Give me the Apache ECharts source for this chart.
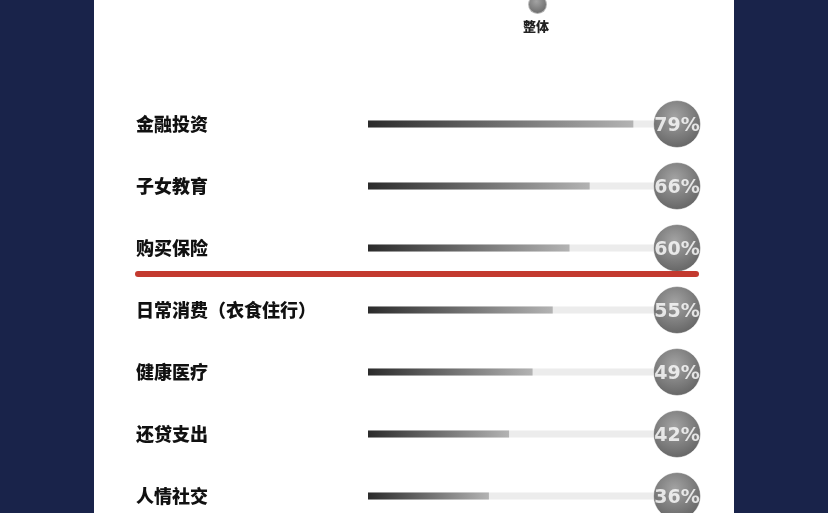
<!DOCTYPE html>
<html>
<head>
<meta charset="utf-8">
<script src="https://cdn.jsdelivr.net/npm/echarts@6/dist/echarts.min.js"></script>
<style>
  html, body { margin: 0; padding: 0; background: #19234a; }
  #main { width: 828px; height: 513px; }
</style>
</head>
<body>
<div id="main"></div>
<script>
// categories top to bottom, and the share of each
const categories = ['金融投资', '子女教育', '购买保险', '日常消费（衣食住行）', '健康医疗', '还贷支出', '人情社交'];
const values = [79, 66, 60, 55, 49, 42, 36];
const seriesName = '整体';
// the grey track ends where the bubble sits
const trackMax = 92;

let myChart = echarts.init(document.getElementById('main'));

let option = {
    backgroundColor: '#19234a',
    animation: false,
    graphic: [
        {
            type: 'rect',
            z: -10,
            shape: { x: 94, y: 0, width: 640, height: 513 },
            style: { fill: '#ffffff' }
        }
    ],
    title: {
        text: seriesName,
        left: 518,
        top: 15,
        textStyle: { fontSize: 13, fontWeight: 900, color: '#222', fontFamily: 'Noto Sans CJK SC' }
    },
    legend: {
        data: [seriesName],
        left: 522,
        top: -11,
        itemWidth: 19,
        itemHeight: 19,
        formatter: function () { return ''; },
        icon: 'circle'
    },
    grid: { left: 368, right: 151, top: 124, bottom: 17, containLabel: false },
    xAxis: {
        type: 'value',
        min: 0,
        max: trackMax,
        show: false
    },
    yAxis: {
        type: 'category',
        data: categories,
        inverse: true,
        boundaryGap: false,
        axisLine: { show: false },
        axisTick: { show: false },
        splitLine: { show: false },
        axisLabel: {
            align: 'left',
            margin: 232,
            fontSize: 18,
            fontWeight: 900,
            color: '#111',
            fontFamily: 'Noto Sans CJK SC'
        }
    },
    series: [
        {
            type: 'bar',
            data: values,
            barWidth: 7,
            showBackground: true,
            backgroundStyle: { color: '#ececec' },
            itemStyle: {
                color: new echarts.graphic.LinearGradient(0, 0, 1, 0, [
                    { offset: 0, color: '#2b2b2b' },
                    { offset: 1, color: '#b3b3b3' }
                ])
            },
            z: 2
        },
        {
            name: seriesName,
            type: 'scatter',
            data: categories.map(function (c) { return [trackMax, c]; }),
            symbolSize: 47,
            itemStyle: {
                color: new echarts.graphic.RadialGradient(0.45, 0.35, 0.7, [
                    { offset: 0, color: '#8c8c8c' },
                    { offset: 1, color: '#3a3a3a' }
                ]),
                borderColor: 'rgba(255,255,255,0.6)',
                borderWidth: 1
            },
            label: {
                show: true,
                position: 'inside',
                offset: [0, 2],
                formatter: function (p) { return values[p.dataIndex] + '%'; },
                color: '#fff',
                fontSize: 19,
                fontWeight: 'bold',
                fontFamily: 'DejaVu Sans'
            },
            z: 5
        }
    ]
};
myChart.setOption(option);

// red divider between 购买保险 and 日常消费
let yA = myChart.convertToPixel({ yAxisIndex: 0 }, categories[2]);
let yB = myChart.convertToPixel({ yAxisIndex: 0 }, categories[3]);
let yLine = yA + (yB - yA) * 0.42;
myChart.setOption({
    graphic: [
        {
            type: 'rect',
            z: -10,
            shape: { x: 94, y: 0, width: 640, height: 513 },
            style: { fill: '#ffffff' }
        },
        {
            type: 'line',
            z: 10,
            shape: { x1: 138, y1: yLine, x2: 696, y2: yLine },
            style: { stroke: '#c33a2f', lineWidth: 6, lineCap: 'round' }
        }
    ]
});
</script>
</body>
</html>
